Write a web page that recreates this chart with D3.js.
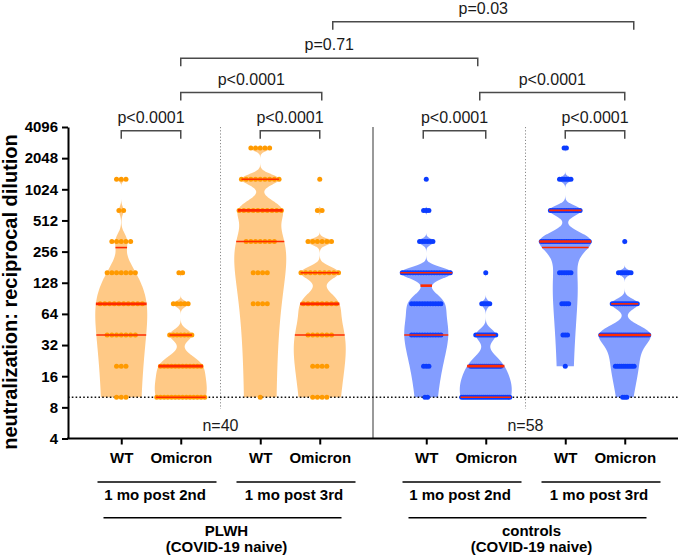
<!DOCTYPE html>
<html><head><meta charset="utf-8">
<script src="https://cdn.jsdelivr.net/npm/d3@7"></script>
<style>
body{margin:0;background:#fff}
svg{display:block}
text{font-family:"Liberation Sans",Arial,Helvetica,sans-serif}
</style>
</head><body>
<svg id="c" width="680" height="556"></svg>
<script>
// ---------------- data ----------------
const levels = [10, 20, 40, 80, 160, 320, 640, 1280, 2560];
const cohorts = ["PLWH", "controls"];
const cohortSub = "(COVID-19 naive)";
const timepoints = ["1 mo post 2nd", "1 mo post 3rd"];
const variants = ["WT", "Omicron"];
// number of subjects at each titre level (same order as `levels`)
const plwh2ndWT  = [3, 3, 7, 10, 7, 5, 2, 3, 0];
const plwh2ndOmi = [14, 12, 7, 5, 2, 0, 0, 0, 0];
const plwh3rdWT  = [1, 0, 0, 4, 4, 7, 10, 9, 5];
const plwh3rdOmi = [4, 4, 6, 8, 9, 6, 2, 1, 0];
const ctrl2ndWT  = [2, 3, 12, 12, 19, 6, 3, 1, 0];
const ctrl2ndOmi = [25, 16, 11, 5, 1, 0, 0, 0, 0];
const ctrl3rdWT  = [0, 1, 3, 4, 6, 22, 14, 6, 2];
const ctrl3rdOmi = [3, 10, 24, 13, 7, 1, 0, 0, 0];
const yTicks = [4, 8, 16, 32, 64, 128, 256, 512, 1024, 2048, 4096];
const nLabels = ["n=40", "n=58"];
const detectionLimit = 10;
const pLabels = ["p<0.0001", "p<0.0001", "p<0.0001", "p=0.71", "p=0.03", "p<0.0001", "p<0.0001", "p<0.0001"];
const bracketFrom = [0, 2, 1, 1, 3, 4, 6, 5];
const bracketTo   = [1, 3, 3, 5, 7, 5, 7, 7];
const bracketLevel = [0, 0, 1, 2, 3, 0, 0, 1];
const yTitle = "neutralization: reciprocal dilution";

// ---------------- layout / style ----------------
const groupCounts = [plwh2ndWT, plwh2ndOmi, plwh3rdWT, plwh3rdOmi, ctrl2ndWT, ctrl2ndOmi, ctrl3rdWT, ctrl3rdOmi];
const kdeBandwidth = [60, 5, 150, 22, 20, 5.5, 70, 9];
const bracketY = [130.7, 92.5, 58.3, 21.7];
const bracketDx = {3: [0, -8], 4: [13, 9], 5: [-3, 0], 7: [-6, 0], 2: [0, 2]};
const fillCol = {PLWH: "#ffc986", controls: "#839dff"};
const dotCol = {PLWH: "#ff9a00", controls: "#0b3cff"};
const lineCol = "#ff2a00";

const svg = d3.select("#c");
const y = d3.scaleLog().base(2).domain([4, 4096]).range([438.5, 127]);
const xC = d3.scaleBand().domain(cohorts).range([68, 678]);
const xT = d3.scaleBand().domain(timepoints).range([-139, 139]);
const xV = d3.scaleBand().domain(variants).range([-59.5, 59.5]);
const cC = c => xC(c) + xC.bandwidth() / 2;
const cT = t => xT(t) + xT.bandwidth() / 2;
const cV = v => xV(v) + xV.bandwidth() / 2;

const groups = groupCounts.map((counts, i) => {
  const cohort = cohorts[Math.floor(i / 4)];
  const time = timepoints[Math.floor(i / 2) % 2];
  const variant = variants[i % 2];
  return {i, cohort, time, variant, counts, h: kdeBandwidth[i],
    key: cohort + "|" + time + "|" + variant,
    x: cC(cohort) + cT(time) + cV(variant)};
});

// vertical separators
svg.append("g").selectAll("line").data(cohorts).join("line")
  .attr("x1", d => cC(d)).attr("x2", d => cC(d))
  .attr("y1", 127).attr("y2", 409)
  .attr("stroke", "#8a8a8a").attr("stroke-width", 1).attr("stroke-dasharray", "1.2,2");
svg.append("line").attr("x1", xC("controls")).attr("x2", xC("controls"))
  .attr("y1", 127).attr("y2", 438.5).attr("stroke", "#6e6e6e").attr("stroke-width", 1.4);

// quantile (GraphPad style, (n+1)p)
function quant(s, p) {
  const n = s.length, pos = (n + 1) * p, lo = Math.floor(pos), f = pos - lo;
  if (lo < 1) return s[0];
  if (lo >= n) return s[n - 1];
  return s[lo - 1] + f * (s[lo] - s[lo - 1]);
}

const halfMax = 26;
const gV = svg.append("g"), gD = svg.append("g"), gL = svg.append("g");

groups.forEach(g => {
  const vals = levels.flatMap((L, k) => d3.range(g.counts[k]).map(() => L)).sort((a, b) => a - b);
  const lo = Math.log2(vals[0]), hi = Math.log2(vals[vals.length - 1]);
  const dens = v => d3.sum(levels, (L, k) => g.counts[k] * Math.exp(-0.5 * ((v - L) / g.h) ** 2));
  const N = 900;
  const pts = d3.range(N + 1).map(j => { const v = Math.pow(2, lo + (hi - lo) * j / N); return {v, d: dens(v)}; });
  const maxD = d3.max(pts, p => p.d);
  const hw = v => dens(v) / maxD * halfMax;
  gV.append("path").datum(pts)
    .attr("d", d3.area().x0(p => g.x - p.d / maxD * halfMax).x1(p => g.x + p.d / maxD * halfMax).y(p => y(p.v)))
    .attr("fill", fillCol[g.cohort]);

  // dots
  const maxC = d3.max(g.counts);
  const sp = Math.min(4.7, 48 / (maxC - 1));
  const dots = [];
  levels.forEach((L, k) => { const c = g.counts[k]; for (let j = 0; j < c; j++) dots.push({v: L, o: (j - (c - 1) / 2) * sp}); });
  gD.selectAll(null).data(dots).join("circle")
    .attr("cx", d => g.x + d.o).attr("cy", d => y(d.v)).attr("r", 2.5)
    .attr("fill", dotCol[g.cohort]);

  // quartile lines
  const qs = [{p: 0.25, w: 1.6}, {p: 0.5, w: 2.6}, {p: 0.75, w: 1.6}].map(q => ({v: quant(vals, q.p), w: q.w}));
  gL.selectAll(null).data(qs).join("line")
    .attr("x1", d => g.x - Math.max(hw(d.v), 2.5)).attr("x2", d => g.x + Math.max(hw(d.v), 2.5))
    .attr("y1", d => y(d.v)).attr("y2", d => y(d.v))
    .attr("stroke", lineCol).attr("stroke-width", d => d.w);
});

// detection limit line
svg.insert("line", "g:nth-of-type(3)").attr("x1", 68).attr("x2", 678)
  .attr("y1", y(detectionLimit)).attr("y2", y(detectionLimit))
  .attr("stroke", "#111").attr("stroke-width", 1.6).attr("stroke-dasharray", "1.6,2.2");

// axes
const yAx = svg.append("g").attr("transform", "translate(68,0)")
  .call(d3.axisLeft(y).tickValues(yTicks).tickFormat(d3.format("d")).tickSize(6).tickSizeOuter(0).tickPadding(4));
yAx.select(".domain").attr("stroke", "#000").attr("stroke-width", 2);
yAx.selectAll(".tick line").attr("stroke", "#000").attr("stroke-width", 2);
yAx.selectAll(".tick text").attr("font-size", 15).attr("font-weight", "bold").attr("fill", "#000")
  .attr("font-family", "'Liberation Sans',Arial,sans-serif");

const xOrd = d3.scaleOrdinal().domain(groups.map(g => g.key)).range(groups.map(g => g.x));
const xAx = svg.append("g").attr("transform", "translate(0,438.5)")
  .call(d3.axisBottom(xOrd).tickSize(6).tickPadding(8).tickFormat(k => k.split("|")[2]));
xAx.select(".domain").remove();
xAx.append("line").attr("x1", 67).attr("x2", 678).attr("stroke", "#000").attr("stroke-width", 2);
xAx.selectAll(".tick line").attr("stroke", "#000").attr("stroke-width", 2);
xAx.selectAll(".tick text").attr("font-size", 15).attr("font-weight", "bold").attr("fill", "#000")
  .attr("font-family", "'Liberation Sans',Arial,sans-serif");

// group labels
const timeItems = cohorts.flatMap(c => timepoints.map(t => ({c, t, x: cC(c) + cT(t)})));
svg.append("g").selectAll("line").data(timeItems).join("line")
  .attr("x1", d => d.x + 6 - 59.5).attr("x2", d => d.x + 6 + 59.5)
  .attr("y1", 482).attr("y2", 482).attr("stroke", "#000").attr("stroke-width", 1.6);
svg.append("g").selectAll("text").data(timeItems).join("text")
  .attr("x", d => d.x + 4).attr("y", 499.5).attr("text-anchor", "middle")
  .attr("font-size", 15).attr("font-weight", "bold").text(d => d.t);
svg.append("g").selectAll("line").data(cohorts).join("line")
  .attr("x1", d => cC(d) + 2 - 119).attr("x2", d => cC(d) + 2 + 119)
  .attr("y1", 517.7).attr("y2", 517.7).attr("stroke", "#000").attr("stroke-width", 1.6);
const ct = svg.append("g").selectAll("text").data(cohorts).join("text")
  .attr("x", d => cC(d) + 6).attr("text-anchor", "middle").attr("font-size", 15).attr("font-weight", "bold");
ct.append("tspan").attr("x", d => cC(d) + 6).attr("y", 535.7).text(d => d);
ct.append("tspan").attr("x", d => cC(d) + 6).attr("y", 551.5).text(cohortSub);

// n labels
svg.append("g").selectAll("text").data(cohorts).join("text")
  .attr("x", d => cC(d)).attr("y", 431).attr("text-anchor", "middle")
  .attr("font-size", 16).attr("fill", "#1a1a1a").text((d, i) => nLabels[i]);

// y title
svg.append("text").attr("transform", "translate(17,292) rotate(-90)")
  .attr("text-anchor", "middle").attr("font-size", 20).attr("font-weight", "bold").text(yTitle);

// brackets
const gb = svg.append("g");
pLabels.forEach((lab, i) => {
  const dx = bracketDx[i] || [0, 0];
  const x1 = groups[bracketFrom[i]].x + dx[0], x2 = groups[bracketTo[i]].x + dx[1];
  const by = bracketY[bracketLevel[i]];
  gb.append("path").attr("d", d3.line()([[x1, by + 8], [x1, by], [x2, by], [x2, by + 8]]))
    .attr("fill", "none").attr("stroke", "#4a4a4a").attr("stroke-width", 1.5);
  gb.append("text").attr("x", (x1 + x2) / 2).attr("y", by - 8).attr("text-anchor", "middle")
    .attr("font-size", 16).attr("fill", "#1a1a1a").text(lab);
});
</script>
</body></html>
